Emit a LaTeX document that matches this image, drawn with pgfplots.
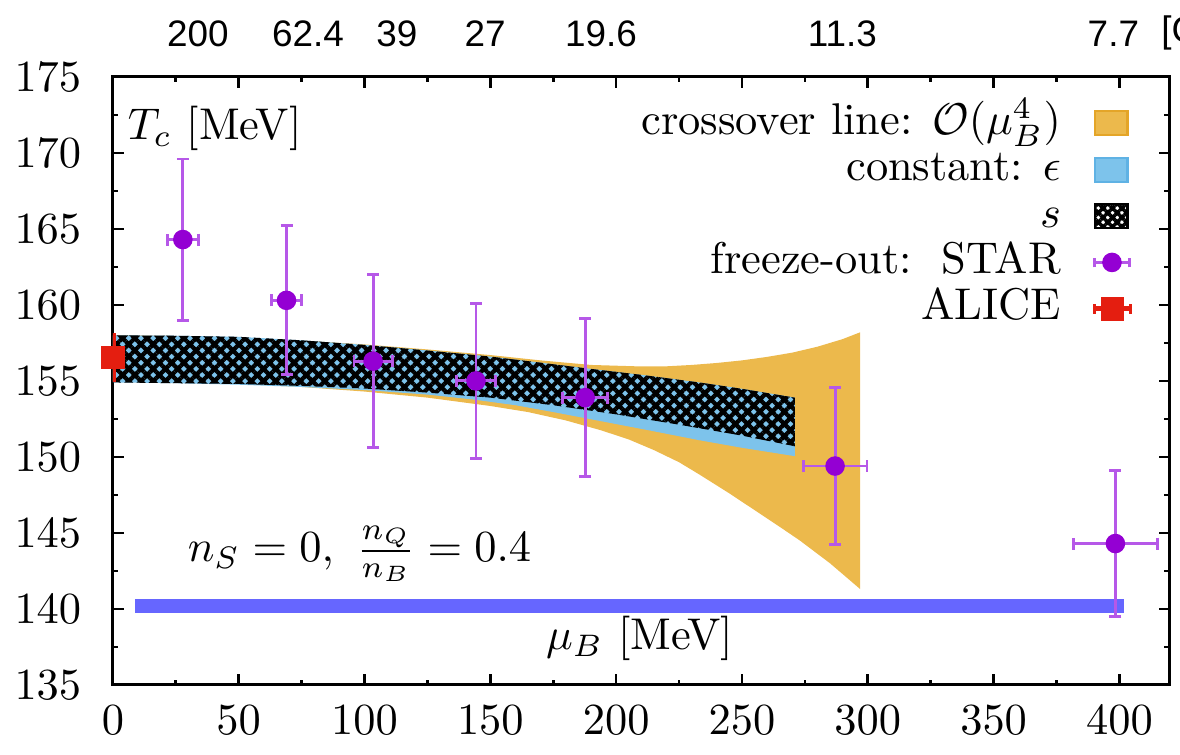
\documentclass[border=0pt]{standalone}
\usepackage{fontspec}
\usepackage{pgfplots}
\pgfplotsset{compat=1.18}
\usetikzlibrary{patterns.meta}
\newfontfamily\lsans{Liberation Sans}
\definecolor{orng}{RGB}{236,185,76}
\definecolor{orngd}{RGB}{228,165,40}
\definecolor{bblue}{RGB}{125,195,235}
\definecolor{bblued}{RGB}{95,178,228}
\definecolor{starc}{RGB}{148,0,211}
\definecolor{starerr}{RGB}{182,88,232}
\definecolor{alice}{RGB}{228,30,16}
\definecolor{barblue}{RGB}{102,102,255}
\begin{document}
\begin{tikzpicture}
\useasboundingbox (-25.4pt,-15.75pt) rectangle (240.1pt,154.1pt);
\begin{axis}[
  at={(0,0)}, anchor=south west, scale only axis,
  width=237.8pt, height=136.8pt,
  xmin=0, xmax=420, ymin=135, ymax=175,
  xtick={0,50,...,400}, ytick={135,140,...,175},
  minor x tick num=1, minor y tick num=1,
  major tick length=2.4pt, minor tick length=1.2pt,
  tick style={black, line width=0.6pt},
  axis line style={line width=0.7pt},
  clip mode=individual,
  yticklabel style={xshift=-3.6pt}, xticklabel style={yshift=-1.2pt},
  tick label style={font=\fontsize{10}{12}\selectfont},
  legend plot pos=right, legend cell align=right,
  legend style={draw=none, fill=none, at={(1,1)}, anchor=north east,
    xshift=-8.1pt, yshift=-5.0pt, inner sep=0pt, column sep=7pt, row sep=0pt,
    nodes={inner sep=0pt, text height=7.7pt, text depth=2.74pt}},
]
% crossover line O(mu_B^4)
\addplot[fill=orng, draw=none, forget plot] coordinates {
 (0,158.0) (25,157.95) (50,157.85) (75,157.65) (100,157.4) (125,157.07)
 (150,156.7) (170,156.35) (190,156.05) (200,156.0) (210,155.95) (220,155.96)
 (230,156.05) (240,156.18) (250,156.35) (260,156.58) (270,156.86) (280,157.25)
 (290,157.75) (297,158.2)
 (297,141.3) (285,143.0) (273,144.5) (265,145.4) (255,146.5) (245,147.6)
 (233,148.85) (225,149.65) (215,150.45) (205,151.15) (194,151.75) (180,152.4)
 (165,152.95) (150,153.35) (125,153.9) (100,154.3) (75,154.6) (50,154.8)
 (25,154.95) (0,155.0)
} -- cycle;
% constant epsilon
\addplot[fill=bblue, draw=none, forget plot] coordinates {
 (0,158.0) (25,157.97) (50,157.9) (75,157.67) (100,157.37) (125,157.0)
 (150,156.6) (170,156.2) (187,155.85) (210,155.4) (233,154.9) (250,154.48) (271,153.9)
 (271,150.05) (250,150.6) (233,151.1) (213,151.75) (194,152.35) (175,152.95)
 (160,153.4) (143,153.78) (125,154.1) (100,154.4) (75,154.6) (50,154.75)
 (25,154.85) (0,154.9)
} -- cycle;
% constant s
\addplot[draw=none, pattern={Hatch[angle=45,distance=1.95pt,line width=0.95pt]}, pattern color=black, forget plot] coordinates {
 (0,158.0) (25,157.97) (50,157.9) (75,157.67) (100,157.37) (125,157.0)
 (150,156.6) (170,156.2) (187,155.85) (210,155.4) (233,154.9) (250,154.48) (271,153.9)
 (271,150.7) (250,151.4) (225,152.12) (200,152.8) (175,153.4) (150,153.9)
 (125,154.23) (100,154.5) (75,154.67) (50,154.8) (0,154.9)
} -- cycle;
% horizontal bar
\addplot[barblue, line width=3.2pt, forget plot] coordinates {(8.7,140.2) (402,140.2)};
% STAR
\addplot[only marks, mark=*, mark size=2pt, color=starc, forget plot,
  error bars/.cd, x dir=both, x explicit, y dir=both, y explicit,
  error bar style={starerr, line width=0.65pt},
  error mark options={rotate=90, starerr, mark size=1.35pt, line width=0.65pt}]
 coordinates {
 (27.8,164.3) +- (6.2,5.3)
 (69.0,160.3) +- (6.0,4.9)
 (103.4,156.3) +- (7.6,5.7)
 (144.3,155.0) +- (7.8,5.1)
 (187.7,153.9) +- (9.0,5.2)
 (287.0,149.4) +- (12.7,5.15)
 (398.4,144.3) +- (16.7,4.8)
};
% ALICE
\addplot[only marks, mark=square*, mark size=2.45pt, color=alice, forget plot,
  error bars/.cd, y dir=both, y explicit,
  error bar style={alice, line width=1.2pt}, error mark=none]
 coordinates {(0,156.55) +- (0,1.6)};

% legend
\addlegendimage{legend image code/.code={\draw[fill=orng, draw=orngd, line width=0.5pt] (0pt,-2.7pt) rectangle (7.4pt,2.7pt);}}
\addlegendentry{crossover line: $\mathcal{O}(\mu_B^4)$}
\addlegendimage{legend image code/.code={\draw[fill=bblue, draw=bblued, line width=0.5pt] (0pt,-2.7pt) rectangle (7.4pt,2.7pt);}}
\addlegendentry{constant: $\epsilon$}
\addlegendimage{legend image code/.code={
  \fill[white] (0pt,-2.7pt) rectangle (7.4pt,2.7pt);
  \draw[black, line width=0.5pt, pattern={Hatch[angle=45,distance=1.5pt,line width=0.8pt]}, pattern color=black] (0pt,-2.7pt) rectangle (7.4pt,2.7pt);}}
\addlegendentry{$s$}
\addlegendimage{legend image code/.code={
  \draw[starerr, line width=0.65pt] (0pt,0pt) -- (7.8pt,0pt);
  \draw[starerr, line width=0.65pt] (0pt,-1.1pt) -- (0pt,1.1pt) (7.8pt,-1.1pt) -- (7.8pt,1.1pt);
  \fill[starc] (3.9pt,0pt) circle (2pt);}}
\addlegendentry{freeze-out:\ \ STAR}
\addlegendimage{legend image code/.code={
  \draw[alice, line width=1.2pt] (0pt,0pt) -- (8pt,0pt);
  \draw[alice, line width=0.6pt] (0pt,-1.1pt) -- (0pt,1.1pt) (8pt,-1.1pt) -- (8pt,1.1pt);
  \fill[alice] (1.55pt,-2.45pt) rectangle (6.45pt,2.45pt);}}
\addlegendentry{ALICE}

% texts
\node[anchor=base west, inner sep=0pt] at (axis cs:5.6,170.85) {$T_c$ [MeV]};
\node[anchor=base west, inner sep=0pt] at (axis cs:29.4,143.1) {$n_S = 0,\ \frac{n_Q}{n_B} = 0.4$};
\node[anchor=base west, inner sep=0pt] at (axis cs:171.8,137.3) {$\mu_B$ [MeV]};
% top energy labels
\begin{scope}[every node/.style={font=\lsans\fontsize{8.3}{10}\selectfont, inner sep=0pt}]
\node at (axis cs:33.8,177.86) {200};
\node at (axis cs:77.5,177.86) {62.4};
\node at (axis cs:112.9,177.86) {39};
\node at (axis cs:147.9,177.86) {27};
\node at (axis cs:194.0,177.86) {19.6};
\node at (axis cs:289.9,177.86) {11.3};
\node at (axis cs:397.6,177.86) {7.7};
\node[anchor=west] at (axis cs:416.3,177.86) {[GeV]};
\end{scope}
\end{axis}
\end{tikzpicture}
\end{document}
